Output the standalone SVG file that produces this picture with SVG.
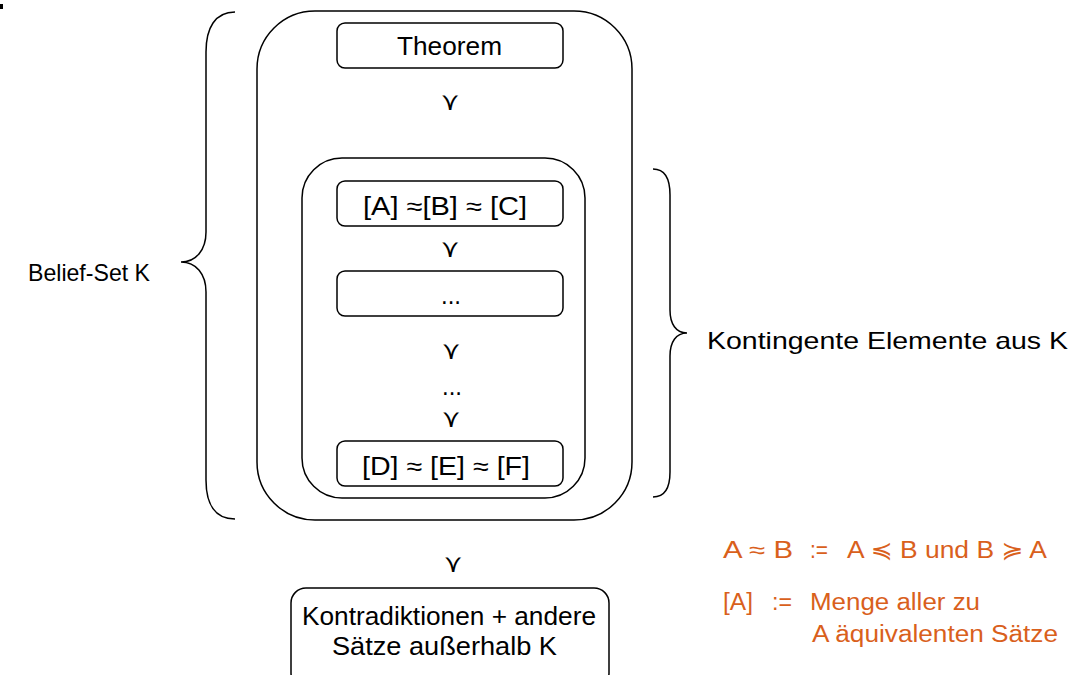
<svg xmlns="http://www.w3.org/2000/svg" width="1072" height="675" viewBox="0 0 1072 675">
<style>
.box{fill:#fff;stroke:#000;stroke-width:1.5}
.frame{fill:none;stroke:#000;stroke-width:1.5}
.brace{fill:none;stroke:#000;stroke-width:1.5}
.t{font-family:"Liberation Sans",Arial,sans-serif;font-size:25px;fill:#000}
.lbl{font-family:"Liberation Sans",Arial,sans-serif;font-size:24px;fill:#000}
.sym{font-family:"DejaVu Sans",sans-serif;font-size:25px;font-weight:200;fill:#000;text-anchor:middle}
.or{font-family:"Liberation Sans","DejaVu Sans",sans-serif;font-size:23px;fill:#D9601C}
</style>
<rect width="1072" height="675" fill="#fff"/>
<rect x="0" y="4" width="3" height="5" fill="#000"/>
<g id="belief-set">
<rect class="frame" x="257" y="11" width="375" height="509" rx="58" ry="58"/>
</g>
<g id="kontingent">
<rect class="frame" x="302" y="158" width="283" height="340" rx="40" ry="40"/>
</g>
<g id="theorem">
<rect class="box" x="337" y="23" width="226" height="45" rx="8"/>
<text class="t" x="397" y="55" style="font-size:26px" textLength="105" lengthAdjust="spacingAndGlyphs">Theorem</text>
</g>
<g id="abc">
<rect class="box" x="337" y="181" width="226" height="45" rx="8"/>
<text class="t" x="363" y="215" textLength="164" lengthAdjust="spacingAndGlyphs">[A] ≈[B] ≈ [C]</text>
</g>
<g id="dots">
<rect class="box" x="337" y="271" width="226" height="45" rx="8"/>
<text class="t" x="441" y="304" textLength="20" lengthAdjust="spacingAndGlyphs">...</text>
</g>
<g id="dots2">
<text class="t" x="442" y="395" textLength="20" lengthAdjust="spacingAndGlyphs">...</text>
</g>
<g id="def">
<rect class="box" x="337" y="441" width="226" height="45" rx="8"/>
<text class="t" x="362" y="475" textLength="168" lengthAdjust="spacingAndGlyphs">[D] ≈ [E] ≈ [F]</text>
</g>
<g id="kontra">
<rect class="box" x="291" y="588" width="318" height="100" rx="15"/>
<text class="t" x="302" y="625" textLength="294" lengthAdjust="spacingAndGlyphs">Kontradiktionen + andere</text>
<text class="t" x="332" y="655" textLength="225" lengthAdjust="spacingAndGlyphs">Sätze außerhalb K</text>
</g>
<g id="connectors">
<text class="sym" x="450" y="110">⋎</text>
<text class="sym" x="450" y="257">⋎</text>
<text class="sym" x="451" y="359">⋎</text>
<text class="sym" x="451" y="427">⋎</text>
<text class="sym" x="453" y="572">⋎</text>
<path class="brace" d="M235,12 C215,12 206,28 206,52 L206,232 C206,250 196,262 181,262 C196,262 206,274 206,292 L206,480 C206,504 215,519 235,519"/>
<path class="brace" d="M653,169 C664,169 670,178 670,195 L670,310 C670,324 676,333 687,333 C676,333 670,342 670,356 L670,472 C670,489 664,497 653,497"/>
</g>
<g id="labels">
<text class="lbl" x="28" y="281" textLength="122" lengthAdjust="spacingAndGlyphs">Belief-Set K</text>
<text class="lbl" x="707" y="349" textLength="361" lengthAdjust="spacingAndGlyphs">Kontingente Elemente aus K</text>
<text class="or" x="723" y="558" textLength="70" lengthAdjust="spacingAndGlyphs">A ≈ B</text>
<text class="or" x="810" y="558" textLength="18" lengthAdjust="spacingAndGlyphs">:=</text>
<text class="or" x="847" y="558" textLength="200" lengthAdjust="spacingAndGlyphs">A ≼ B und B ≽ A</text>
<text class="or" x="723" y="610" textLength="30" lengthAdjust="spacingAndGlyphs">[A]</text>
<text class="or" x="772" y="610" textLength="20" lengthAdjust="spacingAndGlyphs">:=</text>
<text class="or" x="810" y="610" textLength="170" lengthAdjust="spacingAndGlyphs">Menge aller zu</text>
<text class="or" x="812" y="642" textLength="246" lengthAdjust="spacingAndGlyphs">A äquivalenten Sätze</text>
</g>
</svg>
